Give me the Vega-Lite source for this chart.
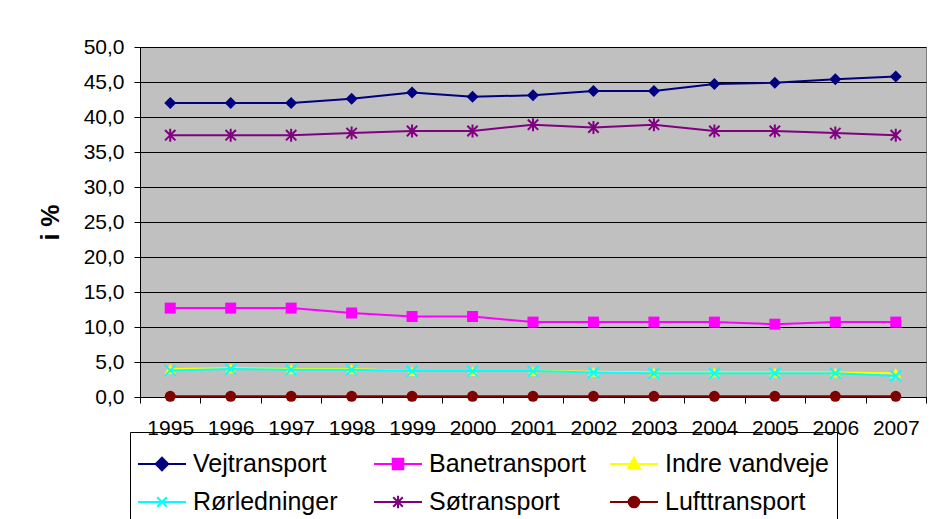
{
  "$schema": "https://vega.github.io/schema/vega-lite/v6.json",
  "autosize": {"type": "none"},
  "padding": {"left": 140, "top": 47, "right": 4, "bottom": 122},
  "width": 786,
  "height": 350,
  "background": "white",
  "view": {"fill": "#C0C0C0", "stroke": "#808080", "strokeWidth": 1},
  "data": {
    "values": [
      {"year": "1995", "series": "Vejtransport", "value": 42.0},
      {"year": "1996", "series": "Vejtransport", "value": 42.0},
      {"year": "1997", "series": "Vejtransport", "value": 42.0},
      {"year": "1998", "series": "Vejtransport", "value": 42.6},
      {"year": "1999", "series": "Vejtransport", "value": 43.5},
      {"year": "2000", "series": "Vejtransport", "value": 42.9},
      {"year": "2001", "series": "Vejtransport", "value": 43.1},
      {"year": "2002", "series": "Vejtransport", "value": 43.7},
      {"year": "2003", "series": "Vejtransport", "value": 43.7},
      {"year": "2004", "series": "Vejtransport", "value": 44.7},
      {"year": "2005", "series": "Vejtransport", "value": 44.9},
      {"year": "2006", "series": "Vejtransport", "value": 45.4},
      {"year": "2007", "series": "Vejtransport", "value": 45.8},
      {"year": "1995", "series": "Banetransport", "value": 12.7},
      {"year": "1996", "series": "Banetransport", "value": 12.7},
      {"year": "1997", "series": "Banetransport", "value": 12.7},
      {"year": "1998", "series": "Banetransport", "value": 12.0},
      {"year": "1999", "series": "Banetransport", "value": 11.5},
      {"year": "2000", "series": "Banetransport", "value": 11.5},
      {"year": "2001", "series": "Banetransport", "value": 10.7},
      {"year": "2002", "series": "Banetransport", "value": 10.7},
      {"year": "2003", "series": "Banetransport", "value": 10.7},
      {"year": "2004", "series": "Banetransport", "value": 10.7},
      {"year": "2005", "series": "Banetransport", "value": 10.4},
      {"year": "2006", "series": "Banetransport", "value": 10.7},
      {"year": "2007", "series": "Banetransport", "value": 10.7},
      {"year": "1995", "series": "Indre vandveje", "value": 4.0},
      {"year": "1996", "series": "Indre vandveje", "value": 4.1},
      {"year": "1997", "series": "Indre vandveje", "value": 4.0},
      {"year": "1998", "series": "Indre vandveje", "value": 4.0},
      {"year": "1999", "series": "Indre vandveje", "value": 3.7},
      {"year": "2000", "series": "Indre vandveje", "value": 3.7},
      {"year": "2001", "series": "Indre vandveje", "value": 3.7},
      {"year": "2002", "series": "Indre vandveje", "value": 3.6},
      {"year": "2003", "series": "Indre vandveje", "value": 3.5},
      {"year": "2004", "series": "Indre vandveje", "value": 3.5},
      {"year": "2005", "series": "Indre vandveje", "value": 3.5},
      {"year": "2006", "series": "Indre vandveje", "value": 3.5},
      {"year": "2007", "series": "Indre vandveje", "value": 3.4},
      {"year": "1995", "series": "Rørledninger", "value": 3.8},
      {"year": "1996", "series": "Rørledninger", "value": 4.0},
      {"year": "1997", "series": "Rørledninger", "value": 3.9},
      {"year": "1998", "series": "Rørledninger", "value": 3.9},
      {"year": "1999", "series": "Rørledninger", "value": 3.7},
      {"year": "2000", "series": "Rørledninger", "value": 3.7},
      {"year": "2001", "series": "Rørledninger", "value": 3.7},
      {"year": "2002", "series": "Rørledninger", "value": 3.5},
      {"year": "2003", "series": "Rørledninger", "value": 3.4},
      {"year": "2004", "series": "Rørledninger", "value": 3.4},
      {"year": "2005", "series": "Rørledninger", "value": 3.4},
      {"year": "2006", "series": "Rørledninger", "value": 3.4},
      {"year": "2007", "series": "Rørledninger", "value": 3.0},
      {"year": "1995", "series": "Søtransport", "value": 37.4},
      {"year": "1996", "series": "Søtransport", "value": 37.4},
      {"year": "1997", "series": "Søtransport", "value": 37.4},
      {"year": "1998", "series": "Søtransport", "value": 37.7},
      {"year": "1999", "series": "Søtransport", "value": 38.0},
      {"year": "2000", "series": "Søtransport", "value": 38.0},
      {"year": "2001", "series": "Søtransport", "value": 38.9},
      {"year": "2002", "series": "Søtransport", "value": 38.5},
      {"year": "2003", "series": "Søtransport", "value": 38.9},
      {"year": "2004", "series": "Søtransport", "value": 38.0},
      {"year": "2005", "series": "Søtransport", "value": 38.0},
      {"year": "2006", "series": "Søtransport", "value": 37.7},
      {"year": "2007", "series": "Søtransport", "value": 37.4},
      {"year": "1995", "series": "Lufttransport", "value": 0.1},
      {"year": "1996", "series": "Lufttransport", "value": 0.1},
      {"year": "1997", "series": "Lufttransport", "value": 0.1},
      {"year": "1998", "series": "Lufttransport", "value": 0.1},
      {"year": "1999", "series": "Lufttransport", "value": 0.1},
      {"year": "2000", "series": "Lufttransport", "value": 0.1},
      {"year": "2001", "series": "Lufttransport", "value": 0.1},
      {"year": "2002", "series": "Lufttransport", "value": 0.1},
      {"year": "2003", "series": "Lufttransport", "value": 0.1},
      {"year": "2004", "series": "Lufttransport", "value": 0.1},
      {"year": "2005", "series": "Lufttransport", "value": 0.1},
      {"year": "2006", "series": "Lufttransport", "value": 0.1},
      {"year": "2007", "series": "Lufttransport", "value": 0.1}
    ]
  },
  "config": {
    "locale": {
      "number": {"decimal": ",", "thousands": ".", "grouping": [3], "currency": ["", " kr."]}
    },
    "axis": {
      "labelFont": "Liberation Sans",
      "titleFont": "Liberation Sans",
      "labelColor": "black",
      "titleColor": "black",
      "labelFontSize": 21,
      "domainColor": "black",
      "tickColor": "black",
      "tickSize": 6,
      "gridColor": "black",
      "gridOpacity": 1
    },
    "legend": {
      "labelFont": "Liberation Sans",
      "labelFontSize": 25,
      "labelColor": "black",
      "labelLimit": 300,
      "labelOffset": 6,
      "symbolSize": 2304,
      "symbolStrokeWidth": 2,
      "strokeColor": "black",
      "padding": 7,
      "columnPadding": 12,
      "rowPadding": -13,
      "gridAlign": "all"
    }
  },
  "encoding": {
    "x": {
      "field": "year",
      "type": "ordinal",
      "scale": {"type": "band", "paddingInner": 0, "paddingOuter": 0},
      "axis": {
        "title": null,
        "labelAngle": 0,
        "tickBand": "extent",
        "labelPadding": 14
      }
    },
    "y": {
      "field": "value",
      "type": "quantitative",
      "scale": {"domain": [0, 50]},
      "axis": {
        "title": "i %",
        "titleFontSize": 25,
        "titleFontWeight": "bold",
        "titlePadding": 20,
        "tickCount": 10,
        "format": ".1f",
        "labelPadding": 10
      }
    }
  },
  "layer": [
    {
      "mark": {"type": "point", "filled": true, "opacity": 0},
      "encoding": {
        "fill": {
          "field": "series",
          "type": "nominal",
          "scale": {
            "domain": ["Vejtransport", "Banetransport", "Indre vandveje", "Rørledninger", "Søtransport", "Lufttransport"],
            "range": ["#000080", "#FF00FF", "#FFFF00", "#00FFFF", "#800080", "#800000"]
          },
          "legend": {"title": null, "orient": "none", "legendX": -10, "legendY": 385, "direction": "horizontal", "columns": 3, "symbolOpacity": 1}
        },
        "stroke": {
          "field": "series",
          "type": "nominal",
          "scale": {
            "domain": ["Vejtransport", "Banetransport", "Indre vandveje", "Rørledninger", "Søtransport", "Lufttransport"],
            "range": ["#000080", "#FF00FF", "#FFFF00", "#00FFFF", "#800080", "#800000"]
          },
          "legend": {"title": null, "orient": "none", "legendX": -10, "legendY": 385, "direction": "horizontal", "columns": 3, "symbolOpacity": 1}
        },
        "shape": {
          "field": "series",
          "type": "nominal",
          "scale": {
            "domain": ["Vejtransport", "Banetransport", "Indre vandveje", "Rørledninger", "Søtransport", "Lufttransport"],
            "range": [
              "M-1,0H1M0,-0.26L0.26,0L0,0.26L-0.26,0Z",
              "M-1,0H1M-0.22,-0.22H0.22V0.22H-0.22Z",
              "M-1,0H1M0,-0.26L0.24,0.18H-0.24Z",
              "M-1,0H1M-0.2,-0.2L0.2,0.2M-0.2,0.2L0.2,-0.2",
              "M-1,0H1M-0.2,-0.2L0.2,0.2M-0.2,0.2L0.2,-0.2M0,-0.26V0.26",
              "M-1,0H1M-0.22,0A0.22 0.22 0 1 0 0.22,0A0.22 0.22 0 1 0 -0.22,0Z"
            ]
          },
          "legend": {"title": null, "orient": "none", "legendX": -10, "legendY": 385, "direction": "horizontal", "columns": 3, "symbolOpacity": 1}
        }
      }
    },
    {
      "transform": [{"filter": "datum.series === 'Vejtransport'"}],
      "mark": {"type": "line", "strokeWidth": 2, "color": "#000080",
        "point": {"shape": "diamond", "filled": true, "opacity": 1, "size": 144, "color": "#000080"}},
      "encoding": {}
    },
    {
      "transform": [{"filter": "datum.series === 'Banetransport'"}],
      "mark": {"type": "line", "strokeWidth": 2, "color": "#FF00FF",
        "point": {"shape": "square", "filled": true, "opacity": 1, "size": 121, "color": "#FF00FF"}},
      "encoding": {}
    },
    {
      "transform": [{"filter": "datum.series === 'Indre vandveje'"}],
      "mark": {"type": "line", "strokeWidth": 2, "color": "#FFFF00",
        "point": {"shape": "triangle-up", "filled": true, "opacity": 1, "size": 130, "color": "#FFFF00"}},
      "encoding": {}
    },
    {
      "transform": [{"filter": "datum.series === 'Rørledninger'"}],
      "mark": {"type": "line", "strokeWidth": 2, "color": "#00FFFF",
        "point": {"shape": "M-1,-1L1,1M-1,1L1,-1", "filled": false, "opacity": 1, "size": 121, "strokeWidth": 2, "color": "#00FFFF"}},
      "encoding": {}
    },
    {
      "transform": [{"filter": "datum.series === 'Søtransport'"}],
      "mark": {"type": "line", "strokeWidth": 2, "color": "#800080",
        "point": {"shape": "M-0.8,-0.8L0.8,0.8M-0.8,0.8L0.8,-0.8M0,-1L0,1", "filled": false, "opacity": 1, "size": 169, "strokeWidth": 2, "color": "#800080"}},
      "encoding": {}
    },
    {
      "transform": [{"filter": "datum.series === 'Lufttransport'"}],
      "mark": {"type": "line", "strokeWidth": 2, "color": "#800000",
        "point": {"shape": "circle", "filled": true, "opacity": 1, "size": 121, "color": "#800000"}},
      "encoding": {}
    }
  ]
}
